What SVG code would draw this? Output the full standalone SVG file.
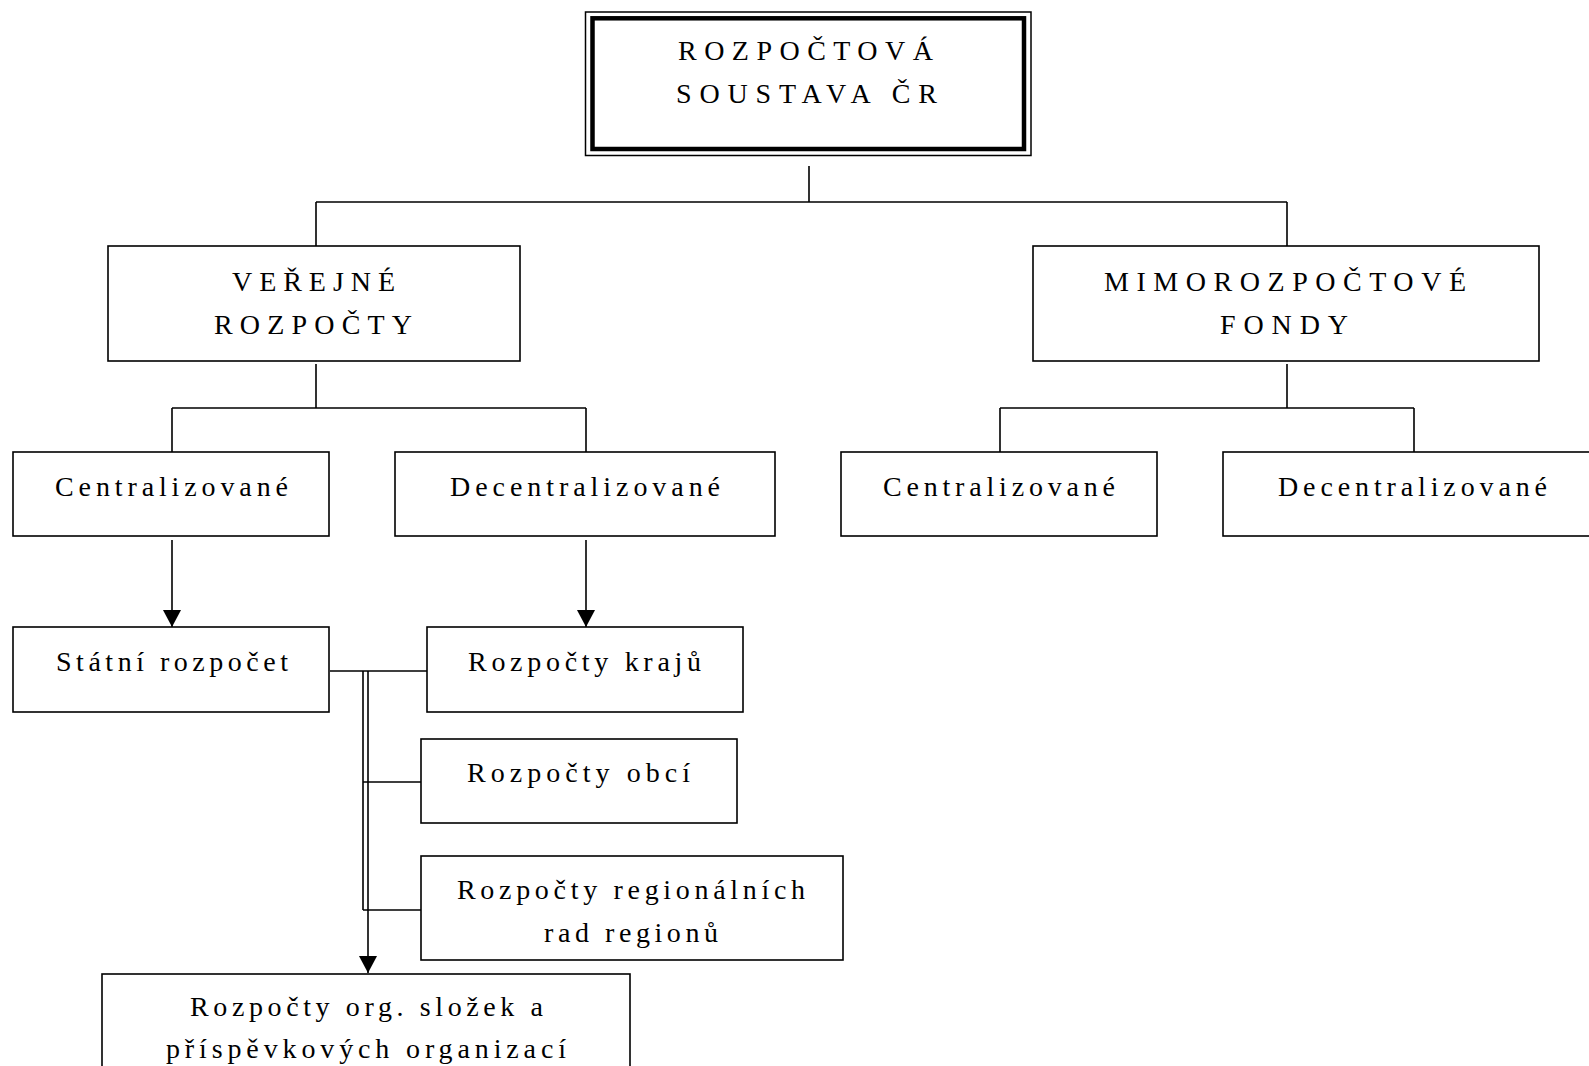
<svg xmlns="http://www.w3.org/2000/svg" width="1589" height="1066" viewBox="0 0 1589 1066">
<style>
.box{fill:#fff;stroke:#000;stroke-width:1.6}
.ln{fill:none;stroke:#000;stroke-width:1.6}
.t{font-family:"Liberation Serif","Times New Roman",serif;font-size:28px;fill:#000}
</style>
<defs>
<marker id="arr" markerUnits="userSpaceOnUse" markerWidth="20" markerHeight="20" refX="17" refY="9" orient="auto">
<path d="M0,0 L17,9 L0,18 z" fill="#000"/>
</marker>
</defs>
<rect width="1589" height="1066" fill="#fff"/>

<g id="connectors">
<path class="ln" d="M809,166 V202 M316,202 H1287 M316,202 V246 M1287,202 V246"/>
<path class="ln" d="M316,364 V408 M172,408 H586 M172,408 V452 M586,408 V452"/>
<path class="ln" d="M1287,364 V408 M1000,408 H1414 M1000,408 V452 M1414,408 V452"/>
<path class="ln" d="M172,540 V627" marker-end="url(#arr)"/>
<path class="ln" d="M586,540 V627" marker-end="url(#arr)"/>
<path class="ln" d="M330,671 H427 M363,671 V910 M363,782 H421 M363,910 H421"/>
<path class="ln" d="M368,671 V973" marker-end="url(#arr)"/>
</g>

<g id="root">
<rect x="585.5" y="12" width="445.5" height="143.5" fill="#fff" stroke="#000" stroke-width="1.5"/>
<rect x="592.5" y="18.3" width="431.5" height="130.7" fill="none" stroke="#000" stroke-width="4.5"/>
<text class="t" x="678" y="60" textLength="255" lengthAdjust="spacing">ROZPOČTOVÁ</text>
<text class="t" x="676" y="103" textLength="261" lengthAdjust="spacing">SOUSTAVA ČR</text>
</g>

<g id="verejne">
<rect class="box" x="108" y="246" width="412" height="115"/>
<text class="t" x="232" y="291" textLength="163" lengthAdjust="spacing">VEŘEJNÉ</text>
<text class="t" x="214" y="334" textLength="198" lengthAdjust="spacing">ROZPOČTY</text>
</g>

<g id="mimo">
<rect class="box" x="1033" y="246" width="506" height="115"/>
<text class="t" x="1104" y="291" textLength="362" lengthAdjust="spacing">MIMOROZPOČTOVÉ</text>
<text class="t" x="1220" y="334" textLength="128" lengthAdjust="spacing">FONDY</text>
</g>

<g id="centr-l">
<rect class="box" x="13" y="452" width="316" height="84"/>
<text class="t" x="55" y="496" textLength="233" lengthAdjust="spacing">Centralizované</text>
</g>

<g id="decentr-l">
<rect class="box" x="395" y="452" width="380" height="84"/>
<text class="t" x="450" y="496" textLength="270" lengthAdjust="spacing">Decentralizované</text>
</g>

<g id="centr-r">
<rect class="box" x="841" y="452" width="316" height="84"/>
<text class="t" x="883" y="496" textLength="232" lengthAdjust="spacing">Centralizované</text>
</g>

<g id="decentr-r">
<rect class="box" x="1223" y="452" width="380" height="84"/>
<text class="t" x="1278" y="496" textLength="269" lengthAdjust="spacing">Decentralizované</text>
</g>

<g id="statni">
<rect class="box" x="13" y="627" width="316" height="85"/>
<text class="t" x="56" y="671" textLength="232" lengthAdjust="spacing">Státní rozpočet</text>
</g>

<g id="kraje">
<rect class="box" x="427" y="627" width="316" height="85"/>
<text class="t" x="468" y="671" textLength="233" lengthAdjust="spacing">Rozpočty krajů</text>
</g>

<g id="obce">
<rect class="box" x="421" y="739" width="316" height="84"/>
<text class="t" x="467" y="782" textLength="223" lengthAdjust="spacing">Rozpočty obcí</text>
</g>

<g id="rrr">
<rect class="box" x="421" y="856" width="422" height="104"/>
<text class="t" x="457" y="899" textLength="348" lengthAdjust="spacing">Rozpočty regionálních</text>
<text class="t" x="544" y="942" textLength="174" lengthAdjust="spacing">rad regionů</text>
</g>

<g id="org">
<rect class="box" x="102" y="974" width="528" height="110"/>
<text class="t" x="190" y="1016" textLength="353" lengthAdjust="spacing">Rozpočty org. složek a</text>
<text class="t" x="166" y="1058" textLength="400" lengthAdjust="spacing">příspěvkových organizací</text>
</g>
</svg>
